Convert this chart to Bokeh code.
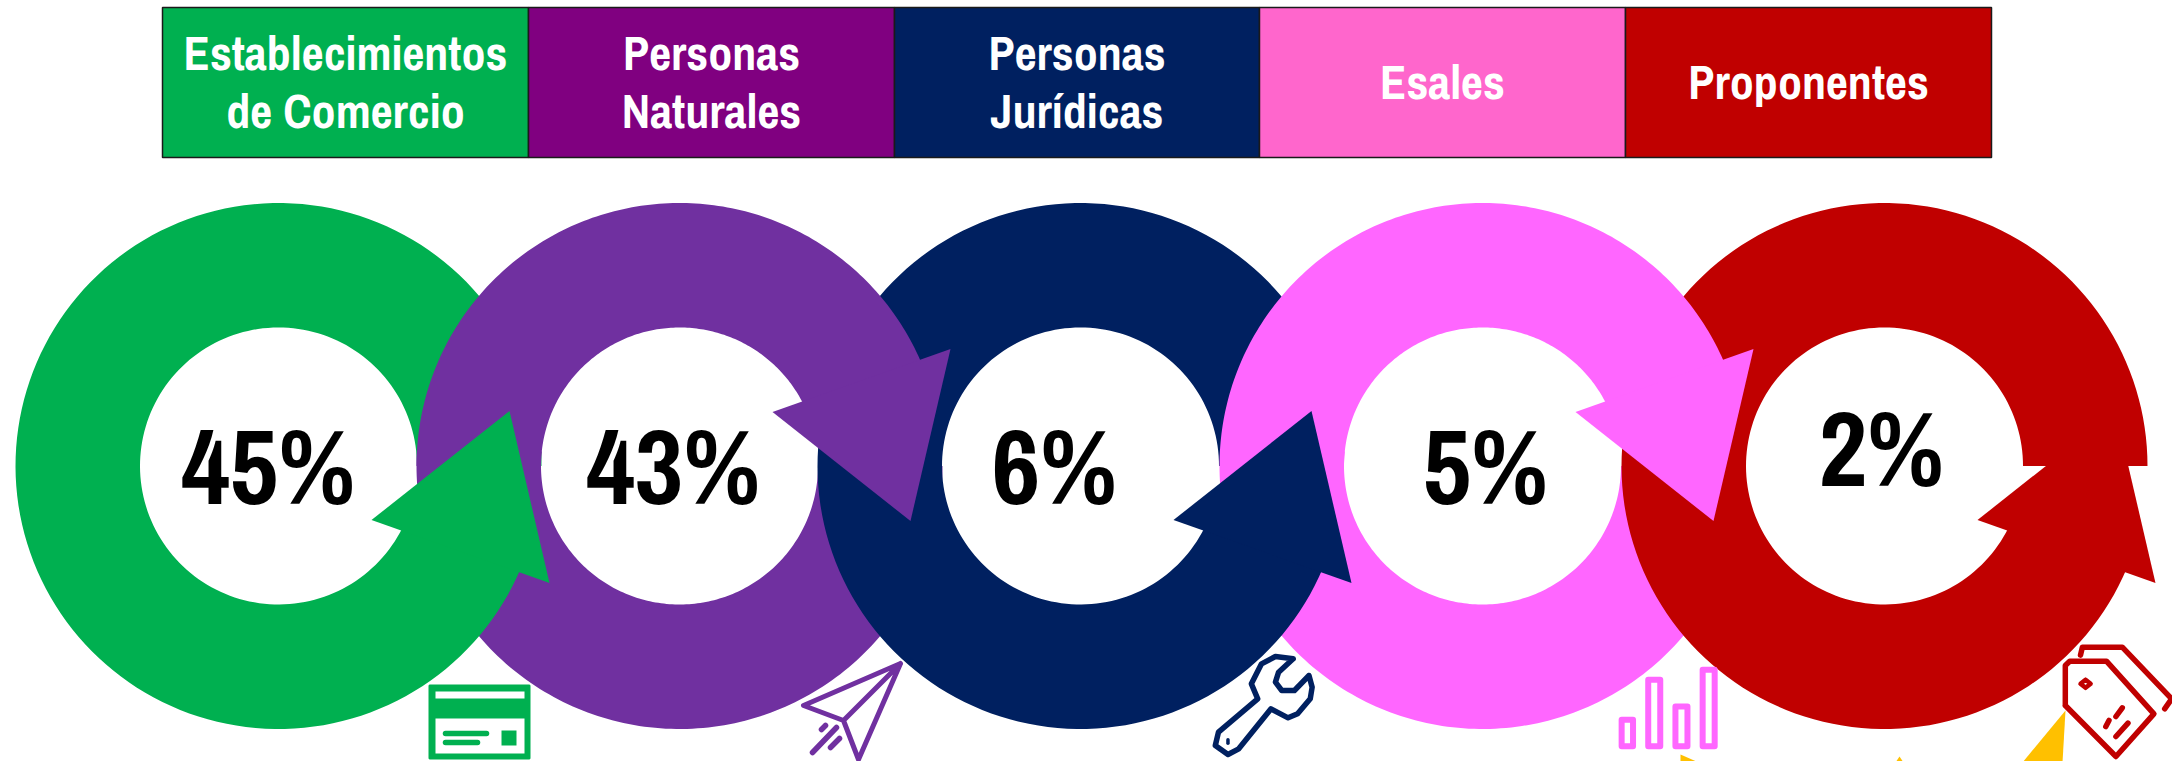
import math
from bokeh.plotting import figure
from bokeh.models import Range1d
from bokeh.core.properties import value
from bokeh.embed import file_html
from bokeh.resources import INLINE

# ---- data ----
categories = [["Establecimientos", "de Comercio"], ["Personas", "Naturales"], ["Personas", "Jurídicas"], ["Esales"], ["Proponentes"]]
percent_labels = ["45%", "43%", "6%", "5%", "2%"]
header_colors = ["#00B050", "#800080", "#002060", "#FF66CC", "#C00000"]
ring_colors = ["#00B050", "#7030A0", "#002060", "#FF66FF", "#C00000"]
icon_colors = ["#00B050", "#7030A0", "#002060", "#FF66FF", "#C00000"]
yellow = "#FFC000"

# ---- layout ----
W, H = 2172, 761
p = figure(width=W, height=H, x_range=Range1d(0, W), y_range=Range1d(H, 0),
           toolbar_location=None, output_backend="svg", min_border=0)
p.axis.visible = False
p.grid.visible = False
p.outline_line_color = None
p.background_fill_color = "white"
p.border_fill_color = "white"

FONT = "Archivo Narrow"
HEAD_PX, PCT_PX = 48, 106
BASE_SHIFT = 0.39  # the renderer draws this fraction of the font size below the requested baseline

# header table
col_edges = [162, 528, 894, 1259, 1625, 1991]
p.quad(left=col_edges[:-1], right=col_edges[1:], top=[7] * 5, bottom=[157] * 5,
       fill_color=header_colors, line_color="#1a1a1a", line_width=1.5)
tx, ty, tt = [], [], []
for i, lines in enumerate(categories):
    cx = (col_edges[i] + col_edges[i + 1]) / 2
    bases = [71, 129] if len(lines) == 2 else [100]
    for s, b in zip(lines, bases):
        tx.append(cx); ty.append(b - BASE_SHIFT * HEAD_PX); tt.append(s)
p.text(tx, ty, text=tt, text_align="center", text_baseline="alphabetic", text_color="white",
       text_font=value(FONT), text_font_style="bold", text_font_size=f"{HEAD_PX}px")

# rings
centers = [278, 679, 1080, 1482, 1884]
CY, RO, RI = 465.5, 263, 138.5
END_O, END_I = 339.2, 335.4   # ends run a little under the arrow head, so no seam shows


def arc(cx, r, a0, a1, sign, n=160):
    xs, ys = [], []
    for k in range(n + 1):
        a = math.radians(a0 + (a1 - a0) * k / n)
        xs.append(cx + r * math.cos(a))
        ys.append(CY + sign * r * math.sin(a))
    return xs, ys


def band(cx, a0, a_o, a_i, sign, color):
    ox, oy = arc(cx, RO, a0, a_o, sign)
    ix, iy = arc(cx, RI, a_i, a0, sign)
    p.patch(ox + ix, oy + iy, fill_color=color, line_color=None)


def head(cx, sign, color):
    pts = [(93, 54), (231, -55), (271, 117)]
    p.patch([cx + a for a, b in pts], [CY - sign * b for a, b in pts], fill_color=color, line_color=None)


# even-position rings turn the other way (sign=+1 passes through the bottom first)
for i in (1, 3):
    band(centers[i], 0, 186, 186, 1, ring_colors[i])
for i in (0, 2, 4):
    band(centers[i], 0, END_O, END_I, -1, ring_colors[i])
for i in (1, 3):
    band(centers[i], 180, END_O, END_I, 1, ring_colors[i])
    head(centers[i], 1, ring_colors[i])
for i in (0, 2, 4):
    head(centers[i], -1, ring_colors[i])

# percent labels
pct_x = [268, 673, 1054, 1485, 1881]
pct_y = [506, 506, 506, 506, 488]
p.text(pct_x, [y - BASE_SHIFT * PCT_PX for y in pct_y], text=percent_labels, text_align="center",
       text_baseline="alphabetic", text_color="black", text_font=value(FONT), text_font_style="bold",
       text_font_size=f"{PCT_PX}px")


# icons -------------------------------------------------------------
def line(pts, color, w=4.0):
    p.line([a for a, b in pts], [b for a, b in pts], line_color=color, line_width=w,
           line_cap="round", line_join="round")


def z4(pts):
    return [(1180 + a / 1.58, 630 + b / 3) for a, b in pts]


# yellow fragments cut by the lower edge
for tri in ([(1680, 754), (1696, 761), (1680, 761)], [(1899, 756), (1895, 762), (1903, 762)],
            [(2065, 710), (2022, 762), (2062, 762)]):
    p.patch([a for a, b in tri], [b for a, b in tri], fill_color=yellow, line_color=None)

# card
c = icon_colors[0]
p.quad(left=[429], right=[529], top=[685], bottom=[758], fill_color=c, line_color=c, line_width=2)
p.quad(left=[435, 435], right=[524, 524], top=[691, 718], bottom=[698, 753], fill_color="white", line_color=None)
line([(445, 733), (486, 733)], c, 5.5)
line([(445, 742), (477, 742)], c, 5.5)
p.quad(left=[501], right=[516], top=[730], bottom=[745], fill_color=c, line_color=None)

# plane
c = icon_colors[1]
line([(900, 663), (803, 705), (843, 720), (900, 663), (858, 759), (843, 720)], c, 5)
line([(825, 725), (821, 729)], c, 5.5)
line([(836, 727), (812, 752)], c, 5.5)
line([(839, 738), (830, 747)], c, 5.5)

# wrench
c = icon_colors[2]
line(z4([(178, 85), (150, 78), (128, 100), (112, 160), (122, 205), (60, 305), (55, 345), (75, 372),
         (92, 355), (143, 235), (170, 262), (185, 250), (205, 205), (208, 170), (203, 135),
         (180, 180), (160, 180), (150, 155), (155, 125), (178, 85)]), c, 5.5)
line(z4([(75, 328), (75, 338)]), c, 3.5)

# bars
c = icon_colors[3]
for a, b, top in ((692, 720, 260), (734, 763, 140), (777, 806, 220), (820, 849, 110)):
    line(z4([(a + 5, top + 8), (b - 5, top + 8), (b - 5, 347), (a + 5, 347), (a + 5, top + 8)]), c, 6)

# tag
c = icon_colors[4]
line(z4([(1398, 225), (1398, 105), (1405, 92), (1463, 92), (1538, 250), (1478, 378), (1398, 225)]), c, 5.5)
line(z4([(1422, 74), (1425, 50), (1488, 50), (1566, 205), (1555, 235)]), c, 5.5)
line(z4([(1430, 148), (1438, 160), (1430, 172), (1422, 160), (1430, 148)]), c, 4.5)
line(z4([(1488, 232), (1478, 258)]), c, 5.5)
line(z4([(1467, 270), (1462, 288)]), c, 5.5)
line(z4([(1497, 278), (1478, 318)]), c, 5.5)

open("out.html", "w").write(file_html(p, INLINE))
